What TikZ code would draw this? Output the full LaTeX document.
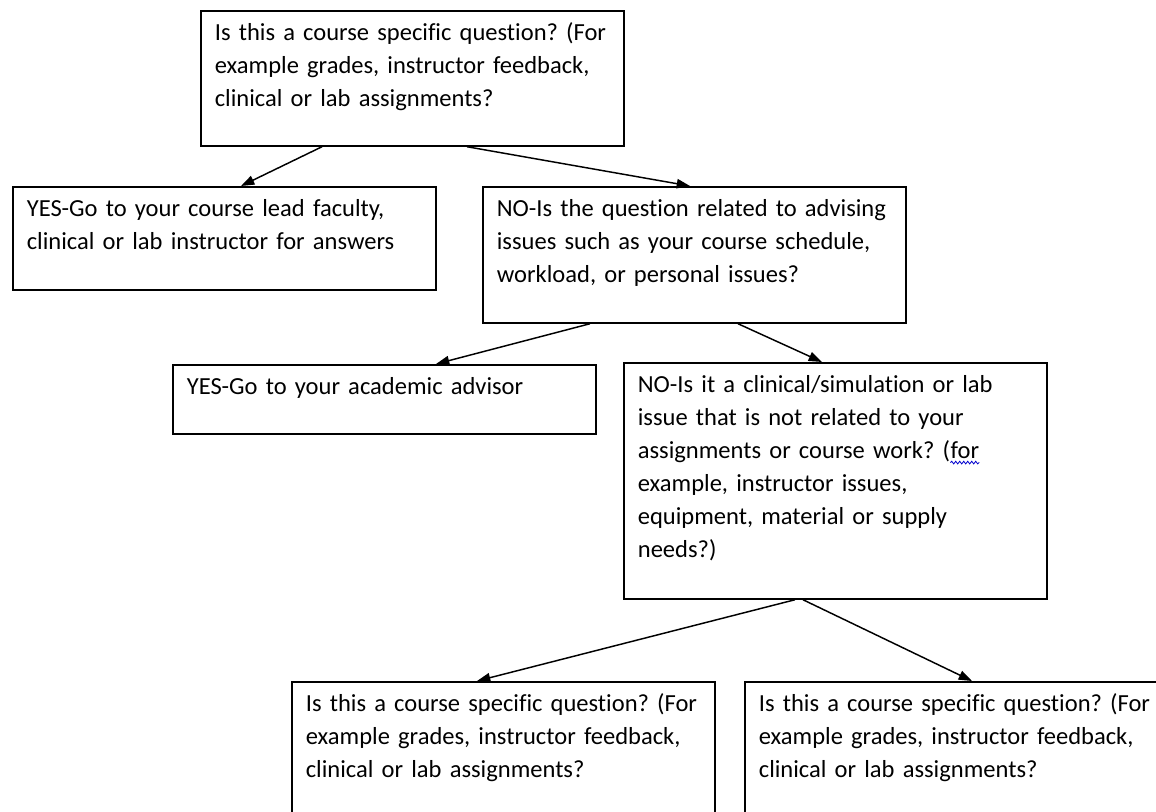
\documentclass[tikz,border=0pt]{standalone}
\usepackage{fontspec}
\setmainfont{Carlito}[Ligatures=CommonOff]
\usetikzlibrary{arrows.meta,decorations.pathmorphing}
\frenchspacing
\hyphenpenalty=10000

\begin{document}
\begin{tikzpicture}[x=0.75pt,y=0.75pt,yscale=-1,xscale=1,
  qbox/.style={draw, line width=1.3pt, anchor=north west, align=left, text width=296.25pt,
    inner xsep=10.5pt, inner ysep=6pt, text height=16.5pt,
    font=\fontsize{18.4}{24.75}\selectfont},
  qarrow/.style={line width=1.1pt, -{Triangle[length=10pt,width=7pt]}},
  spellwave/.style={draw=blue!80!black, line width=0.6pt, decorate,
    decoration={snake, amplitude=1pt, segment length=3pt}}]
\useasboundingbox (0,0) rectangle (1156,812);
\clip (0,0) rectangle (1156,812);

% Question box
\node[qbox, text depth=72.75pt] (course) at (200,10) {Is this a course specific question? (For\\ example grades, instructor feedback,\\ clinical or lab assignments?};
% YES box
\node[qbox, text depth=48.75pt] (faculty) at (12,186) {YES-Go to your course lead faculty,\\ clinical or lab instructor for answers};
% NO box
\node[qbox, text depth=73.5pt] (advising) at (482,186) {NO-Is the question related to advising\\ issues such as your course schedule,\\ workload, or personal issues?};
% YES box
\node[qbox, text depth=23.25pt] (advisor) at (172,364) {YES-Go to your academic advisor};
% NO box
\node[qbox, text depth=148.5pt] (clinical) at (623,362) {NO-Is it a clinical/simulation or lab\\ issue that is not related to your\\ assignments or course work? (\tikz[baseline=(forword.base)]{\node[draw=none, inner sep=0pt, text depth=2.6pt] (forword) {for}; \path[spellwave] (forword.south west) -- (forword.south east);}\\ example, instructor issues,\\ equipment, material or supply\\ needs?)};
% Question boxes, bottom row
\node[qbox, text depth=72.75pt] (courseA) at (291,681) {Is this a course specific question? (For\\ example grades, instructor feedback,\\ clinical or lab assignments?};
\node[qbox, text depth=72.75pt] (courseB) at (744,681) {Is this a course specific question? (For\\ example grades, instructor feedback,\\ clinical or lab assignments?};

% Arrows
\draw[qarrow] ([xshift=91.5pt]course.south west) -- ([xshift=171.75pt]faculty.north west);
\draw[qarrow] ([xshift=200.25pt]course.south west) -- ([xshift=156pt]advising.north west);
\draw[qarrow] ([xshift=81pt]advising.south west) -- ([xshift=198pt]advisor.north west);
\draw[qarrow] ([xshift=192pt]advising.south west) -- ([xshift=149.25pt]clinical.north west);
\draw[qarrow] ([xshift=129pt]clinical.south west) -- ([xshift=139.5pt]courseA.north west);
\draw[qarrow] ([xshift=135pt]clinical.south west) -- ([xshift=171pt]courseB.north west);

\end{tikzpicture}
\end{document}
